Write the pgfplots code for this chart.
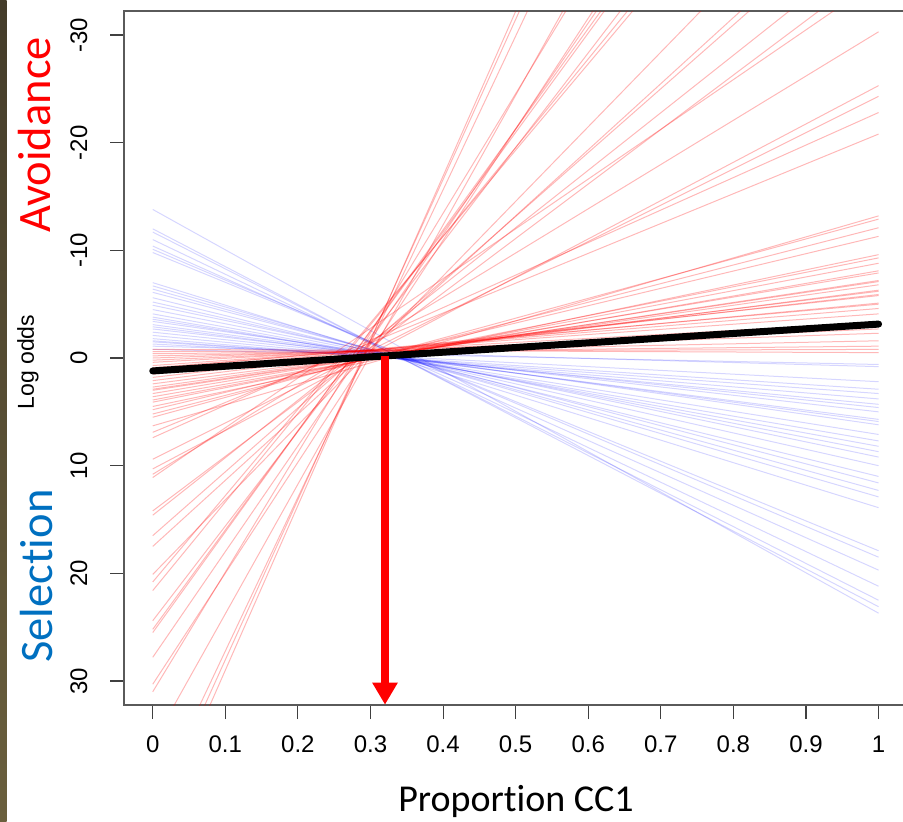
\documentclass[border=0pt]{standalone}
\usepackage{fontspec}
\setmainfont{Liberation Sans}
\newfontfamily\calibri[Ligatures={NoCommon}]{Carlito}
\usepackage{pgfplots}
\pgfplotsset{compat=1.18}
\usetikzlibrary{arrows.meta}
\definecolor{selblue}{RGB}{0,112,192}
\definecolor{axgray}{RGB}{90,90,90}
\definecolor{stripTop}{RGB}{68,60,42}
\definecolor{stripBot}{RGB}{106,95,61}
\pgfplotsset{
  rl/.style={red, draw opacity=0.28, line width=1pt, mark=none},
  bl/.style={blue, draw opacity=0.16, line width=1pt, mark=none},
}
\begin{document}
\begin{tikzpicture}[x=1pt,y=1pt]
\path[use as bounding box] (0,0) rectangle (903,822);
\clip (0,0) rectangle (903,822);
\fill[white] (0,0) rectangle (903,822);
\shade[top color=stripTop, bottom color=stripBot] (0,0) rectangle (6.5,822);
\begin{axis}[
  at={(124pt,117pt)}, anchor=south west,
  scale only axis, width=783.3pt, height=694pt,
  xmin=-0.0396, xmax=1.0396, ymin=-32.23, ymax=32.23,
  y dir=reverse,
  axis line style={axgray, line width=1.3pt},
  tick style={black!75, line width=1.1pt},
  tick align=outside, major tick length=14pt,
  xtick pos=left, ytick pos=left,
  xtick={0,0.1,0.2,0.3,0.4,0.5,0.6,0.7,0.8,0.9,1},
  xticklabels={0,0.1,0.2,0.3,0.4,0.5,0.6,0.7,0.8,0.9,1},
  ytick={-30,-20,-10,0,10,20,30},
  yticklabels={-30,-20,-10,0,10,20,30},
  tick label style={font=\fontsize{24}{28}\selectfont, inner sep=0pt},
  xticklabel style={anchor=north},
  yticklabel style={rotate=90, anchor=base},
  xticklabel shift=17pt, yticklabel shift=23pt,
  clip=true,
]
% blue series (selection)
\addplot[bl] coordinates {(0,-13.8) (1,23.7)};
\addplot[bl] coordinates {(0,-12.0) (1,23.1)};
\addplot[bl] coordinates {(0,-11.7) (1,22.5)};
\addplot[bl] coordinates {(0,-11.0) (1,21.2)};
\addplot[bl] coordinates {(0,-10.4) (1,19.7)};
\addplot[bl] coordinates {(0,-10.1) (1,18.5)};
\addplot[bl] coordinates {(0,-9.8) (1,17.9)};
\addplot[bl] coordinates {(0,-7.0) (1,13.9)};
\addplot[bl] coordinates {(0,-6.7) (1,12.9)};
\addplot[bl] coordinates {(0,-6.4) (1,12.3)};
\addplot[bl] coordinates {(0,-6.1) (1,11.6)};
\addplot[bl] coordinates {(0,-5.6) (1,11.0)};
\addplot[bl] coordinates {(0,-5.2) (1,10.0)};
\addplot[bl] coordinates {(0,-4.9) (1,9.2)};
\addplot[bl] coordinates {(0,-4.5) (1,8.7)};
\addplot[bl] coordinates {(0,-4.1) (1,8.2)};
\addplot[bl] coordinates {(0,-3.8) (1,7.7)};
\addplot[bl] coordinates {(0,-3.6) (1,7.1)};
\addplot[bl] coordinates {(0,-3.4) (1,6.2)};
\addplot[bl] coordinates {(0,-3.1) (1,5.9)};
\addplot[bl] coordinates {(0,-2.9) (1,5.7)};
\addplot[bl] coordinates {(0,-2.7) (1,5.0)};
\addplot[bl] coordinates {(0,-2.4) (1,4.6)};
\addplot[bl] coordinates {(0,-2.1) (1,4.3)};
\addplot[bl] coordinates {(0,-1.8) (1,3.8)};
\addplot[bl] coordinates {(0,-1.6) (1,3.3)};
\addplot[bl] coordinates {(0,-1.5) (1,2.9)};
\addplot[bl] coordinates {(0,-1.3) (1,2.2)};
\addplot[bl] coordinates {(0,-1.1) (1,0.8)};
\addplot[bl] coordinates {(0,-0.8) (1,0.6)};
% red series (avoidance)
\addplot[rl] coordinates {(0,44.3) (1,-108.7)};
\addplot[rl] coordinates {(0,42.9) (1,-105.8)};
\addplot[rl] coordinates {(0,41.5) (1,-101.3)};
\addplot[rl] coordinates {(0,35.8) (1,-84.6)};
\addplot[rl] coordinates {(0,31.0) (1,-80.1)};
\addplot[rl] coordinates {(0,30.3) (1,-72.8)};
\addplot[rl] coordinates {(0,27.8) (1,-70.4)};
\addplot[rl] coordinates {(0,25.5) (1,-68.0)};
\addplot[rl] coordinates {(0,25.2) (1,-67.1)};
\addplot[rl] coordinates {(0,24.4) (1,-63.5)};
\addplot[rl] coordinates {(0,21.6) (1,-60.7)};
\addplot[rl] coordinates {(0,20.8) (1,-59.4)};
\addplot[rl] coordinates {(0,20.1) (1,-49.2)};
\addplot[rl] coordinates {(0,17.5) (1,-43.9)};
\addplot[rl] coordinates {(0,16.5) (1,-42.8)};
\addplot[rl] coordinates {(0,14.6) (1,-38.8)};
\addplot[rl] coordinates {(0,14.2) (1,-36.4)};
\addplot[rl] coordinates {(0,11.1) (1,-35.1)};
\addplot[rl] coordinates {(0,10.8) (1,-30.3)};
\addplot[rl] coordinates {(0,10.3) (1,-25.3)};
\addplot[rl] coordinates {(0,9.4) (1,-24.3)};
\addplot[rl] coordinates {(0,7.4) (1,-22.8)};
\addplot[rl] coordinates {(0,6.9) (1,-20.8)};
\addplot[rl] coordinates {(0,6.3) (1,-13.2)};
\addplot[rl] coordinates {(0,5.5) (1,-12.9)};
\addplot[rl] coordinates {(0,5.2) (1,-12.1)};
\addplot[rl] coordinates {(0,4.8) (1,-11.3)};
\addplot[rl] coordinates {(0,4.5) (1,-9.6)};
\addplot[rl] coordinates {(0,4.1) (1,-9.3)};
\addplot[rl] coordinates {(0,3.9) (1,-8.8)};
\addplot[rl] coordinates {(0,3.6) (1,-8.1)};
\addplot[rl] coordinates {(0,3.3) (1,-7.9)};
\addplot[rl] coordinates {(0,3.0) (1,-7.2)};
\addplot[rl] coordinates {(0,2.9) (1,-7.1)};
\addplot[rl] coordinates {(0,2.7) (1,-6.8)};
\addplot[rl] coordinates {(0,2.4) (1,-6.3)};
\addplot[rl] coordinates {(0,2.1) (1,-6.2)};
\addplot[rl] coordinates {(0,1.8) (1,-5.9)};
\addplot[rl] coordinates {(0,1.5) (1,-5.8)};
\addplot[rl] coordinates {(0,1.2) (1,-5.1)};
\addplot[rl] coordinates {(0,1.0) (1,-5.0)};
\addplot[rl] coordinates {(0,0.9) (1,-4.6)};
\addplot[rl] coordinates {(0,0.7) (1,-4.1)};
\addplot[rl] coordinates {(0,0.4) (1,-3.3)};
\addplot[rl] coordinates {(0,0.2) (1,-2.7)};
\addplot[rl] coordinates {(0,0.0) (1,-2.3)};
\addplot[rl] coordinates {(0,-0.2) (1,-1.6)};
\addplot[rl] coordinates {(0,-0.4) (1,-1.1)};
\addplot[rl] coordinates {(0,-0.6) (1,-0.8)};
\addplot[rl] coordinates {(0,-0.8) (1,-0.5)};
% mean line
\addplot[black, line width=7pt, line cap=round] coordinates {(0,1.2) (1,-3.15)};
% threshold arrow
\addplot[red, line width=7.5pt, -{Triangle[width=24pt,length=22pt]}] coordinates {(0.32,-0.2) (0.32,32.2)};
\end{axis}
\node[rotate=90, anchor=base, inner sep=0pt, text=red, font=\calibri\fontsize{46.5}{50}\selectfont] at (50,687) {Avoidance};
\node[rotate=90, anchor=base, inner sep=0pt, text=selblue, font=\calibri\fontsize{46.5}{50}\selectfont] at (52,246) {Selection};
\node[rotate=90, anchor=base, inner sep=0pt, font=\fontsize{23}{26}\selectfont] at (34,460) {Log odds};
\node[anchor=base, inner sep=0pt, font=\calibri\fontsize{38}{42}\selectfont] at (516,10) {Proportion CC1};
\end{tikzpicture}
\end{document}
